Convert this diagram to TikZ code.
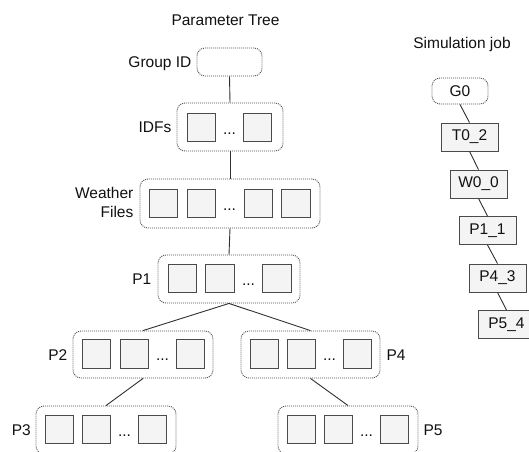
\documentclass[tikz,border=0pt]{standalone}
\usepackage{fontspec}
\setmainfont{Liberation Sans}
\usetikzlibrary{calc}
\definecolor{sqfill}{HTML}{F4F4F4}
\definecolor{sqdraw}{HTML}{4A4A4A}
\definecolor{grpdraw}{HTML}{505050}
\definecolor{linec}{HTML}{303030}
\definecolor{txt}{HTML}{111111}
\begin{document}
\begin{tikzpicture}[x=1pt,y=-1pt,
  every node/.style={text=txt, font=\fontsize{15.5}{19}\selectfont},
  grp/.style={draw=grpdraw, line width=0.9pt, dash pattern=on 1pt off 1pt, rounded corners=8pt, minimum height=48pt, inner sep=0pt},
  sq/.style={draw=sqdraw, fill=sqfill, line width=1.1pt, minimum width=28.5pt, minimum height=28.5pt, inner sep=0pt},
  sbox/.style={draw=sqdraw, fill=sqfill, line width=0.9pt, minimum width=57pt, minimum height=28pt, inner sep=0pt},
  lbl/.style={inner sep=0pt},
  dots/.style={inner sep=0pt, anchor=base},
  conn/.style={draw=linec, line width=0.9pt}
]
\useasboundingbox (0,0) rectangle (529,451);

% titles
\node[lbl, anchor=base] (pt) at (225.5,25) {Parameter Tree};
\node[lbl, anchor=base] (sj) at (462,48) {Simulation job};

% Group ID
\node[grp, minimum width=65pt, minimum height=28pt] (gid) at (229.5,62) {};
\node[lbl, anchor=base east] (gidl) at ($(gid.west)+(-5,5)$) {Group ID};

% IDFs
\node[grp, minimum width=106pt] (idf) at (230,127) {};
\node[sq] (i1) at (201.5,127.5) {};
\node[sq] (i2) at (257.5,127.5) {};
\node[dots] (id) at (229.5,134) {...};
\node[lbl, anchor=base east] (idfl) at ($(idf.west)+(-5,5.5)$) {IDFs};

% Weather files
\node[grp, minimum width=180pt, minimum height=49pt] (wf) at (230,203.5) {};
\node[sq] (w1) at (163.5,203.5) {};
\node[sq] (w2) at (201.5,203.5) {};
\node[sq] (w3) at (258.5,203.5) {};
\node[sq] (w4) at (296,203.5) {};
\node[dots] (wd) at (229.5,210) {...};
\node[lbl, anchor=east, align=right] (wfl) at ($(wf.west)+(-6,-1.5)$) {Weather\\Files};

% P1
\node[grp, minimum width=142pt] (p1) at (229,279) {};
\node[sq] (a1) at (182.5,278.5) {};
\node[sq] (a2) at (220,278.5) {};
\node[sq] (a3) at (277,278.5) {};
\node[dots] (ad) at (248.5,285) {...};
\node[lbl, anchor=base east] (p1l) at ($(p1.west)+(-6,5.5)$) {P1};

% P2
\node[grp, minimum width=140pt, minimum height=47pt] (p2) at (143,354.5) {};
\node[sq] (b1) at (96.5,354) {};
\node[sq] (b2) at (134.5,354) {};
\node[sq] (b3) at (190.5,354) {};
\node[dots] (bd) at (162.5,360.5) {...};
\node[lbl, anchor=base east] (p2l) at ($(p2.west)+(-5,5.5)$) {P2};

% P4
\node[grp, minimum width=139pt, minimum height=47pt] (p4) at (310.5,354.5) {};
\node[sq] (c1) at (264.5,354) {};
\node[sq] (c2) at (301.5,354) {};
\node[sq] (c3) at (357.5,354) {};
\node[dots] (cd) at (329.5,360.5) {...};
\node[lbl, anchor=base west] (p4l) at ($(p4.east)+(6,5.5)$) {P4};

% P3
\node[grp, minimum width=140pt] (p3) at (106,430) {};
\node[sq] (d1) at (59.5,429.5) {};
\node[sq] (d2) at (96.5,429.5) {};
\node[sq] (d3) at (152.5,429.5) {};
\node[dots] (dd) at (124.5,436) {...};
\node[lbl, anchor=base east] (p3l) at ($(p3.west)+(-4.5,5.5)$) {P3};

% P5
\node[grp, minimum width=140pt] (p5) at (348,430) {};
\node[sq] (e1) at (301.5,429.5) {};
\node[sq] (e2) at (338.5,429.5) {};
\node[sq] (e3) at (394.5,429.5) {};
\node[dots] (ed) at (366.5,436) {...};
\node[lbl, anchor=base west] (p5l) at ($(p5.east)+(5,5.5)$) {P5};

% tree connectors
\draw[conn] (gid.south) -- (idf.north);
\draw[conn] (idf.south) -- (wf.north);
\draw[conn] (wf.south) -- (p1.north);
\draw[conn] (p1.south) -- (p2.north);
\draw[conn] (p1.south) -- (p4.north);
\draw[conn] (p2.south) -- (p3.north);
\draw[conn] (p4.south) -- (p5.north);

% simulation job
\node[grp, minimum width=56pt, minimum height=26pt] (g0) at (460,91) {G0};
\node[sbox] (t02) at (469.5,137) {T0\_2};
\node[sbox] (w00) at (478.5,184) {W0\_0};
\node[sbox] (p11) at (487.5,230.5) {P1\_1};
\node[sbox] (p43) at (497.5,278) {P4\_3};
\node[sbox] (p54) at (506.5,324.5) {P5\_4};
\draw[conn] (g0.south) -- (t02.north);
\draw[conn] (t02.south) -- (w00.north);
\draw[conn] (w00.south) -- (p11.north);
\draw[conn] (p11.south) -- (p43.north);
\draw[conn] (p43.south) -- (p54.north);
\end{tikzpicture}
\end{document}
